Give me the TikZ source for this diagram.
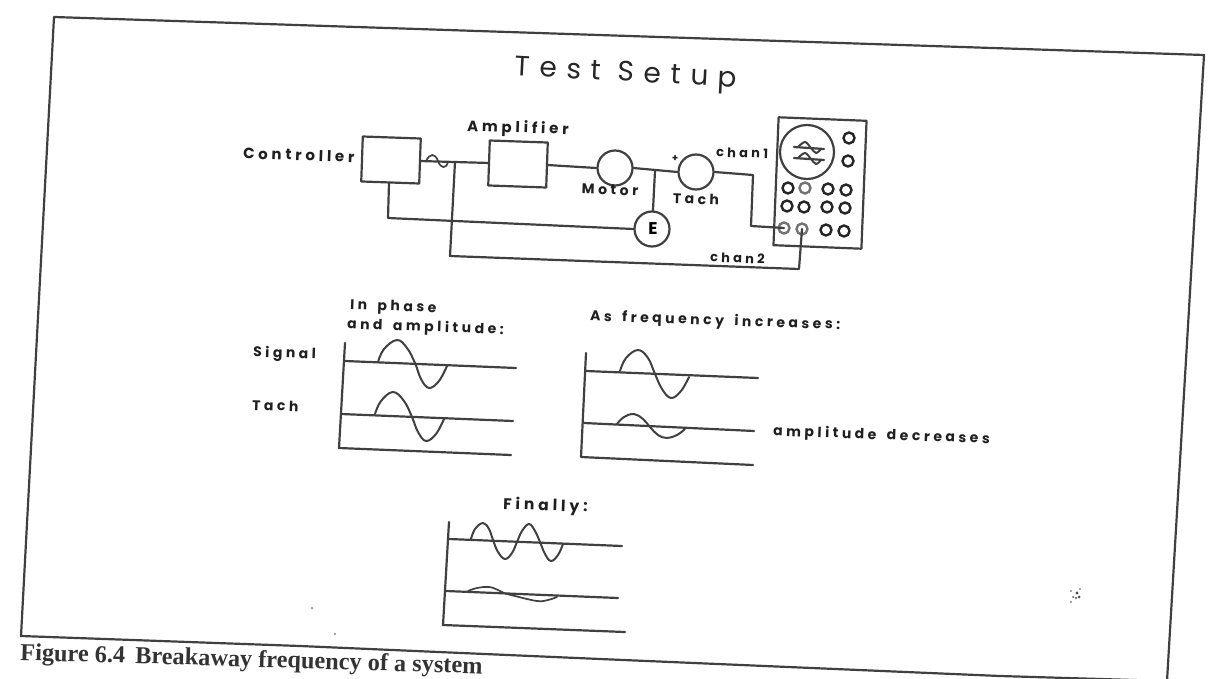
\documentclass[tikz,border=0pt]{standalone}
\usepackage{fontspec}
\setmainfont{Liberation Serif}
\newfontfamily\plotfont[LetterSpace=25,WordSpace=1.6]{Poppins Bold}
\newfontfamily\titlefont[LetterSpace=34]{Poppins}
\tikzset{
  ink/.style={draw=black!75,line width=2.2pt,line join=round,line cap=round},
  boxnode/.style={ink,rectangle,rotate=-2,minimum width=58pt,minimum height=45pt,inner sep=0pt},
  bigcirc/.style={ink,circle,minimum size=35pt,inner sep=0pt},
  knob/.style={draw=black!85,line width=2.4pt,circle,minimum size=11pt,inner sep=0pt},
  greyknob/.style={draw=black!55,line width=2.4pt,circle,minimum size=11pt,inner sep=0pt},
  lab/.style={font=\plotfont\fontsize{14}{15}\selectfont,text=black!88,rotate=-2,inner sep=0pt},
  wave/.style={ink,line width=2pt},
  speck/.style={fill=black!70,draw=none}
}
\begin{document}
\begin{tikzpicture}[x=1pt,y=-1pt]
\useasboundingbox (0,0) rectangle (1215,679);
% frame
\draw[ink,line width=2.2pt] (54,17) -- (1204,55) -- (1167,681) -- (1000,676) -- (600,659) -- (300,646) -- (21,636) -- cycle;
% title and caption
\node[font=\titlefont\fontsize{28}{30}\selectfont,text=black!85,rotate=-3,inner sep=0pt] (title) at (626,75) {Test Setup};
\node[font=\fontsize{24.3}{26}\selectfont\bfseries,text=black!80,rotate=-1.7,inner sep=0pt,anchor=base west] (caption) at (20,660) {Figure 6.4\, Breakaway frequency of a system};
% schematic
\node[boxnode] (ctrl) at (391,160) {};
\node[boxnode] (amp) at (518,164) {};
\node[bigcirc] (motor) at (615,168) {};
\node[bigcirc] (tach) at (696,172) {};
\node[bigcirc,font=\plotfont\fontsize{17}{18}\selectfont] (emeter) at (652,229) {\hspace{2pt}E};
\node[ink,rectangle,rotate=-2.3,minimum width=88pt,minimum height=128pt,inner sep=0pt] (scope) at (820,183) {};
\node[ink,circle,minimum size=54pt,inner sep=0pt] (screen) at (807,152) {};
\node[knob] (k1) at (849,138) {};
\node[knob] (k2) at (848,161) {};
\node[knob] (k3) at (788,188) {};
\node[greyknob] (k4) at (805,188) {};
\node[knob] (k5) at (828,189) {};
\node[knob] (k6) at (846,190) {};
\node[knob] (k7) at (787,206) {};
\node[knob] (k8) at (804,207) {};
\node[knob] (k9) at (827,207) {};
\node[knob] (k10) at (845,208) {};
\node[greyknob] (k11) at (784,228) {};
\node[greyknob] (k12) at (802,229) {};
\node[knob] (k13) at (826,230) {};
\node[knob] (k14) at (844,231) {};
% wiring coordinates
\coordinate (j1) at (455,162);
\coordinate (c1) at (450,256);
\coordinate (c2) at (799,269);
\coordinate (c3) at (388,218);
\coordinate (j2) at (655,171);
\coordinate (c4) at (753,175);
\coordinate (c5) at (751,226);
\coordinate (c6) at (389,183);
\coordinate (sq1) at (426,161);
\coordinate (sq2) at (448,162);
% wires
\draw[ink] (ctrl.east) -- (amp.west);
\draw[ink,line width=1.7pt] (sq1) .. controls (430,153) and (435,153) .. (438,161) .. controls (441,169) and (446,169) .. (sq2);
\draw[ink] (amp.east) -- (motor.west);
\draw[ink] (motor.east) -- (tach.west);
\draw[ink] (j2) -- (emeter);
\draw[ink] (tach.east) -- (c4) -- (c5) -- (k11.center);
\draw[ink] (c6) -- (c3) -- (emeter.west);
\draw[ink] (j1) -- (c1) -- (c2) -- (k12.center);
% screen traces
\coordinate (t1a) at (794,147);\coordinate (t1b) at (824,149);
\coordinate (t2a) at (794,158);\coordinate (t2b) at (824,160);
\draw[ink] (t1a) -- (t1b);
\draw[ink] (t2a) -- (t2b);
\draw[wave] plot[smooth,tension=.6] coordinates {(798,147)(805,142)(811,148)(816,153)(821,149)};
\draw[wave] plot[smooth,tension=.6] coordinates {(798,158)(805,153)(811,159)(816,164)(821,160)};
% schematic labels
\node[lab,anchor=west,font=\plotfont\fontsize{15}{16}\selectfont] (lc) at (243,153) {Controller};
\node[lab,anchor=west,font=\plotfont\fontsize{15}{16}\selectfont] (la) at (467,127) {Amplifier};
\node[lab,anchor=center] (lm) at (610,190) {Motor};
\node[lab,anchor=center] (lt) at (696,199) {Tach};
\node[lab,anchor=west,font=\plotfont\fontsize{13}{14}\selectfont] (l1) at (716,152) {chan1};
\node[lab,anchor=west,font=\plotfont\fontsize{13}{14}\selectfont] (l2) at (710,257) {chan2};
\node[lab,font=\plotfont\fontsize{10}{10}\selectfont] (plus) at (675,159) {+};
% panel 1
\node[lab,anchor=west] (p1a) at (350,306) {In phase};
\node[lab,anchor=west] (p1b) at (347,325) {and amplitude:};
\node[lab,anchor=west] (p1c) at (253,353) {Signal};
\node[lab,anchor=west] (p1d) at (252,405) {Tach};
\coordinate (p1t) at (345,343);\coordinate (p1o) at (339,448);\coordinate (p1e) at (511,455);
\coordinate (p1l) at (345,361);\coordinate (p1r) at (516,368);
\coordinate (p1m) at (341,414);\coordinate (p1s) at (513,421);
\draw[ink] (p1t) -- (p1o) -- (p1e);
\draw[ink] (p1l) -- (p1r);
\draw[ink] (p1m) -- (p1s);
\draw[wave] plot[smooth,tension=.65] coordinates {(378,362)(384,349)(397,340)(407,348)(415,363)(421,379)(429,388)(439,381)(447,366)};
\draw[wave] plot[smooth,tension=.65] coordinates {(375,414)(381,401)(393,392)(404,401)(412,417)(418,432)(426,441)(436,434)(444,419)};
% panel 2
\node[lab,anchor=west] (p2a) at (590,317) {As frequency increases:};
\node[lab,anchor=west] (p2b) at (773,432) {amplitude decreases};
\coordinate (p2t) at (586,353);\coordinate (p2o) at (581,457);\coordinate (p2e) at (753,465);
\coordinate (p2l) at (586,371);\coordinate (p2r) at (758,378);
\coordinate (p2m) at (584,423);\coordinate (p2s) at (754,431);
\draw[ink] (p2t) -- (p2o) -- (p2e);
\draw[ink] (p2l) -- (p2r);
\draw[ink] (p2m) -- (p2s);
\draw[wave] plot[smooth,tension=.65] coordinates {(620,371)(626,358)(638,350)(648,358)(655,374)(662,389)(671,398)(681,391)(689,377)};
\draw[wave] plot[smooth,tension=.65] coordinates {(617,424)(624,417)(634,414)(643,419)(650,427)(658,435)(667,438)(677,435)(685,429)};
% panel 3
\node[lab,anchor=west,font=\plotfont\fontsize{15.5}{16}\selectfont] (p3a) at (503,505) {Finally:};
\coordinate (p3t) at (449,522);\coordinate (p3o) at (443,625);\coordinate (p3e) at (625,632);
\coordinate (p3l) at (449,539);\coordinate (p3r) at (622,546);
\coordinate (p3m) at (446,591);\coordinate (p3s) at (618,598);
\draw[ink] (p3t) -- (p3o) -- (p3e);
\draw[ink] (p3l) -- (p3r);
\draw[ink] (p3m) -- (p3s);
\draw[wave] plot[smooth,tension=.65] coordinates {(471,539)(475,529)(483,523)(489,529)(493,540)(498,552)(505,559)(512,553)(517,542)(522,531)(529,524)(535,531)(540,542)(545,554)(551,561)(558,555)(563,544)};
\draw[wave,line width=1.7pt] plot[smooth,tension=.65] coordinates {(468,591)(477,588)(489,587)(498,590)(504,593)(515,596)(537,601)(548,600)(557,597)};
% scan specks
\fill[speck] (1071,591) circle (.8pt) (1073,597) circle (1pt) (1071,602) circle (.8pt) (1077,593) circle (1.6pt) (1079,597) circle (1.5pt) (1076,598) circle (1.2pt) (1080,589) circle (.8pt);
\fill[speck,fill=black!35] (312,608) circle (1.5pt);
\fill[speck] (335,634) circle (.8pt);
\end{tikzpicture}
\end{document}
